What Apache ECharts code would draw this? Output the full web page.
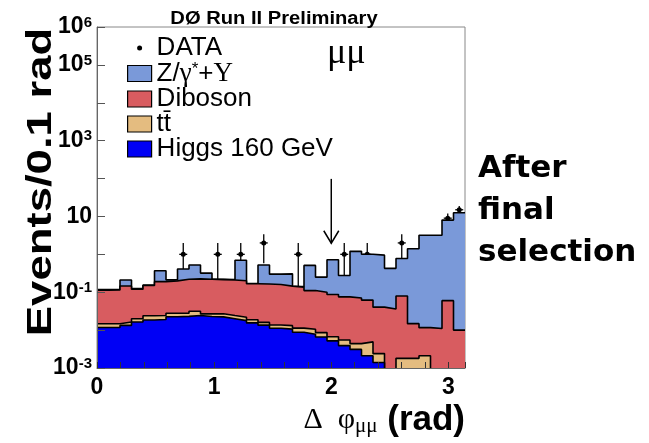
<!DOCTYPE html>
<html>
<head>
<meta charset="utf-8">
<script src="https://cdn.jsdelivr.net/npm/echarts@6/dist/echarts.min.js"></script>
<style>
  html, body { margin: 0; padding: 0; background: #fff; }
  #chart { width: 649px; height: 443px; }
</style>
</head>
<body>
<div id="chart"></div>
<script>
// delta phi (mu mu) after final selection, 32 bins over [0, pi]
var BIN_WIDTH = Math.PI / 32;

// stacked backgrounds + signal, events per bin (bottom of the stack first)
var higgs   = [0.0117, 0.0117, 0.0133, 0.0163, 0.0185, 0.019, 0.0225, 0.023, 0.0242, 0.0228, 0.0224, 0.02, 0.0178, 0.0155, 0.0135, 0.0112,
               0.0106, 0.0088, 0.0078, 0.0066, 0.0052, 0.0039, 0.0031, 0.0021, 0.0014, 0, 0, 0, 0, 0, 0, 0];
var ttbar   = [0.003, 0.003, 0.003, 0.0036, 0.0055, 0.0052, 0.0053, 0.0048, 0.0074, 0.0041, 0.0045, 0.0042, 0.0041, 0.0032, 0.0025, 0.0025,
               0.0025, 0.0025, 0.0027, 0.002, 0.0015, 0.0016, 0.0013, 0.0028, 0.001, 0, 0.0018, 0.0018, 0.0021, 0, 0, 0];
var diboson = [0.098, 0.1, 0.129, 0.1, 0.126, 0.166, 0.172, 0.192, 0.193, 0.193, 0.188, 0.186, 0.178, 0.148, 0.149, 0.146,
               0.132, 0.125, 0.1, 0.091, 0.08, 0.07, 0.066, 0.057, 0.038, 0.036, 0.078, 0.013, 0.0095, 0.011, 0.06, 0.01];
var zgamma  = [0.005, 0.005, 0.065, 0.005, 0.005, 0.18, 0.012, 0.19, 0.3, 0.1, 0.005, 0.005, 0.5, 0.003, 0.36, 0.14,
               0.16, 0.004, 0.4, 0.15, 0.63, 0.2, 1.13, 0.94, 0.91, 0.39, 0.7, 1.39, 3.19, 3.19, 7.94, 12.5];

// observed events per bin
var dataCounts = [0, 0, 0, 0, 0, 0, 0, 1, 0, 0, 1, 0, 1, 0, 2, 0,
                  0, 1, 0, 0, 0, 1, 0, 1, 0, 0, 2, 0, 0, 0, 9, 15];

// axis labels
var xLabels = [0, 1, 2, 3];
var yLabelExps = [6, 5, 3, 1, -1, -3];

// arrow at the cut value: [x, from, to]
var arrowCut = [2, 98, 1.96];

var SANS = '"Liberation Sans", Arial, Helvetica, sans-serif';
var SERIF = '"Liberation Serif", "Times New Roman", serif';
var Y_MIN = 1e-3;

var colors = { z: '#7a99d9', diboson: '#d85c60', tt: '#e4bc80', higgs: '#0000f5' };

// running sums -> top edge of every layer of the stack
function addUp(a, b) {
  return a.map(function (v, i) { return v + b[i]; });
}
var topHiggs = higgs.slice();
var topTT = addUp(topHiggs, ttbar);
var topDiboson = addUp(topTT, diboson);
var topZ = addUp(topDiboson, zgamma);

// histogram as step points on the bin edges
function stepPoints(values) {
  var pts = values.map(function (v, i) {
    return [i * BIN_WIDTH, Math.max(v, 1e-5)];
  });
  pts.push([values.length * BIN_WIDTH, Math.max(values[values.length - 1], 1e-5)]);
  return pts;
}

function histSeries(name, values, fill, z) {
  return {
    name: name,
    type: 'line',
    step: 'end',
    data: stepPoints(values),
    symbol: 'none',
    showSymbol: false,
    silent: true,
    z: z,
    lineStyle: { color: '#000', width: 1.6 },
    areaStyle: { color: fill, opacity: 1, origin: 'start' },
    itemStyle: { color: fill },
    emphasis: { disabled: true }
  };
}

var dataPoints = [];
dataCounts.forEach(function (n, i) {
  if (n > 0) {
    var err = Math.sqrt(n);
    dataPoints.push([(i + 0.5) * BIN_WIDTH, n, Math.max(n - err, Y_MIN), n + err]);
  }
});

function renderData(params, api) {
  var c = api.coord([api.value(0), api.value(1)]);
  var lo = api.coord([api.value(0), api.value(2)]);
  var hi = api.coord([api.value(0), api.value(3)]);
  var st = { stroke: '#000', lineWidth: 1.3 };
  return {
    type: 'group',
    children: [
      { type: 'line', shape: { x1: c[0], y1: hi[1], x2: c[0], y2: lo[1] }, style: st },
      { type: 'line', shape: { x1: c[0] - 4, y1: c[1], x2: c[0] + 4, y2: c[1] }, style: st },
      { type: 'circle', shape: { cx: c[0], cy: c[1], r: 2.5 }, style: { fill: '#000' } }
    ]
  };
}

function renderArrow(params, api) {
  var a = api.coord([api.value(0), api.value(1)]);
  var b = api.coord([api.value(0), api.value(2)]);
  var st = { stroke: '#000', lineWidth: 1.5, fill: null };
  return {
    type: 'group',
    children: [
      { type: 'line', shape: { x1: a[0], y1: a[1], x2: b[0], y2: b[1] }, style: st },
      { type: 'polyline', shape: { points: [[b[0] - 7.5, b[1] - 12.5], [b[0], b[1]], [b[0] + 7.5, b[1] - 12.5]] }, style: st }
    ]
  };
}

function yLabel(v) {
  var e = Math.round(Math.log(v) / Math.LN10);
  if (yLabelExps.indexOf(e) < 0) return '';
  if (e === 1) return '{b|10}';
  return '{b|10}{sup|' + e + '}';
}

function xLabel(v) {
  var r = Math.round(v);
  if (Math.abs(v - r) > 1e-6 || xLabels.indexOf(r) < 0) return '';
  return String(r);
}

// small dot centred in a 24x16 legend box
var dotIcon = 'path://M0,0M24,16M9.5,8a2.5,2.5 0 1,0 5,0a2.5,2.5 0 1,0 -5,0z';

var chart = echarts.init(document.getElementById('chart'));

var option = {
  animation: false,
  backgroundColor: '#fff',
  grid: {
    left: 97, top: 27, width: 368, height: 341,
    show: true, borderColor: '#888', borderWidth: 1, backgroundColor: 'transparent'
  },
  xAxis: {
    type: 'value', min: 0, max: Math.PI, interval: 0.2, z: 10,
    axisLine: { show: true, lineStyle: { color: '#666' } },
    axisTick: { show: true, inside: true, length: 6, lineStyle: { color: '#333' } },
    splitLine: { show: false },
    axisLabel: {
      interval: 0, formatter: xLabel, margin: 8,
      fontFamily: SANS, fontWeight: 'bold', fontSize: 23, color: '#000'
    }
  },
  yAxis: {
    type: 'log', logBase: 10, min: Y_MIN, max: 1e6, interval: 1, splitNumber: 9, z: 10,
    axisLine: { show: true, lineStyle: { color: '#666' } },
    axisTick: { show: true, inside: true, length: 8, lineStyle: { color: '#555' } },
    splitLine: { show: false },
    axisLabel: {
      formatter: yLabel, margin: 5, color: '#000',
      rich: {
        b: { fontFamily: SANS, fontWeight: 'bold', fontSize: 23, lineHeight: 24, color: '#000' },
        sup: { fontFamily: SANS, fontWeight: 'bold', fontSize: 15, lineHeight: 12, verticalAlign: 'top', color: '#000' }
      }
    }
  },
  legend: {
    orient: 'vertical', left: 127, top: 35, padding: 0,
    itemWidth: 24, itemHeight: 16, itemGap: -1, selectedMode: false, icon: 'rect',
    itemStyle: { borderColor: '#000', borderWidth: 1.2 },
    textStyle: {
      fontFamily: SANS, fontSize: 26, lineHeight: 26, color: '#000',
      rich: {
        a: { fontFamily: SANS, fontSize: 26, lineHeight: 26, color: '#000' },
        g: { fontFamily: SERIF, fontSize: 27, lineHeight: 26, color: '#000' },
        s: { fontFamily: SANS, fontSize: 17, lineHeight: 14, verticalAlign: 'top', color: '#000' }
      }
    },
    formatter: function (name) {
      if (name === 'Z/γ*+Υ') return '{a|Z/}{g|γ}{s|*}{a|+}{g|Υ}';
      return name;
    },
    data: [
      { name: 'DATA', icon: dotIcon, itemStyle: { color: '#000', borderWidth: 0 } },
      { name: 'Z/γ*+Υ', itemStyle: { color: colors.z, borderColor: '#000', borderWidth: 1.2 } },
      { name: 'Diboson', itemStyle: { color: colors.diboson, borderColor: '#000', borderWidth: 1.2 } },
      { name: 'tt\u0304', itemStyle: { color: colors.tt, borderColor: '#000', borderWidth: 1.2 } },
      { name: 'Higgs 160 GeV', itemStyle: { color: colors.higgs, borderColor: '#000', borderWidth: 1.2 } }
    ]
  },
  graphic: [
    {
      type: 'text', x: 274, y: 19, scaleX: 1.12,
      style: {
        text: 'DØ Run II Preliminary', font: 'bold 18px ' + SANS, fill: '#000',
        align: 'center', verticalAlign: 'middle', textAlign: 'center', textVerticalAlign: 'middle'
      }
    },
    {
      type: 'text', x: 41, y: 182, rotation: Math.PI / 2, scaleX: 1.3,
      style: {
        text: 'Events/0.1 rad', font: 'bold 35px ' + SANS, fill: '#000',
        align: 'center', verticalAlign: 'middle', textAlign: 'center', textVerticalAlign: 'middle'
      }
    },
    {
      type: 'text', x: 327, y: 54,
      style: {
        text: 'μμ', font: '36px ' + SERIF, fill: '#000',
        align: 'left', verticalAlign: 'middle', textAlign: 'left', textVerticalAlign: 'middle'
      }
    },
    {
      type: 'text', x: 465, y: 420,
      style: {
        text: '{s|Δ  φ}{sub|μμ}{b| (rad)}', fill: '#000',
        align: 'right', verticalAlign: 'middle', textAlign: 'right', textVerticalAlign: 'middle',
        rich: {
          s: { fontFamily: SERIF, fontSize: 30, lineHeight: 34, fill: '#000' },
          sub: { fontFamily: SERIF, fontSize: 21, verticalAlign: 'bottom', fill: '#000' },
          b: { fontFamily: SANS, fontWeight: 'bold', fontSize: 35, lineHeight: 34, fill: '#000' }
        }
      }
    },
    {
      type: 'text', x: 478, y: 148.5,
      style: {
        text: 'After\nfinal\nselection', font: 'bold 31px "DejaVu Sans", Verdana, sans-serif', fill: '#000',
        lineHeight: 41.7, align: 'left', verticalAlign: 'top', textAlign: 'left', textVerticalAlign: 'top'
      }
    }
  ],
  series: [
    {
      name: 'DATA', type: 'custom', coordinateSystem: 'cartesian2d', z: 1, silent: true,
      itemStyle: { color: '#000' },
      encode: { x: 0, y: 1 },
      renderItem: renderData,
      data: dataPoints
    },
    histSeries('Z/γ*+Υ', topZ, colors.z, 2),
    histSeries('Diboson', topDiboson, colors.diboson, 3),
    histSeries('tt\u0304', topTT, colors.tt, 4),
    histSeries('Higgs 160 GeV', topHiggs, colors.higgs, 5),
    {
      name: 'cut', type: 'custom', coordinateSystem: 'cartesian2d', z: 6, silent: true,
      encode: { x: 0, y: [1, 2] },
      renderItem: renderArrow,
      data: [arrowCut]
    }
  ]
};

chart.setOption(option);
</script>
</body>
</html>
